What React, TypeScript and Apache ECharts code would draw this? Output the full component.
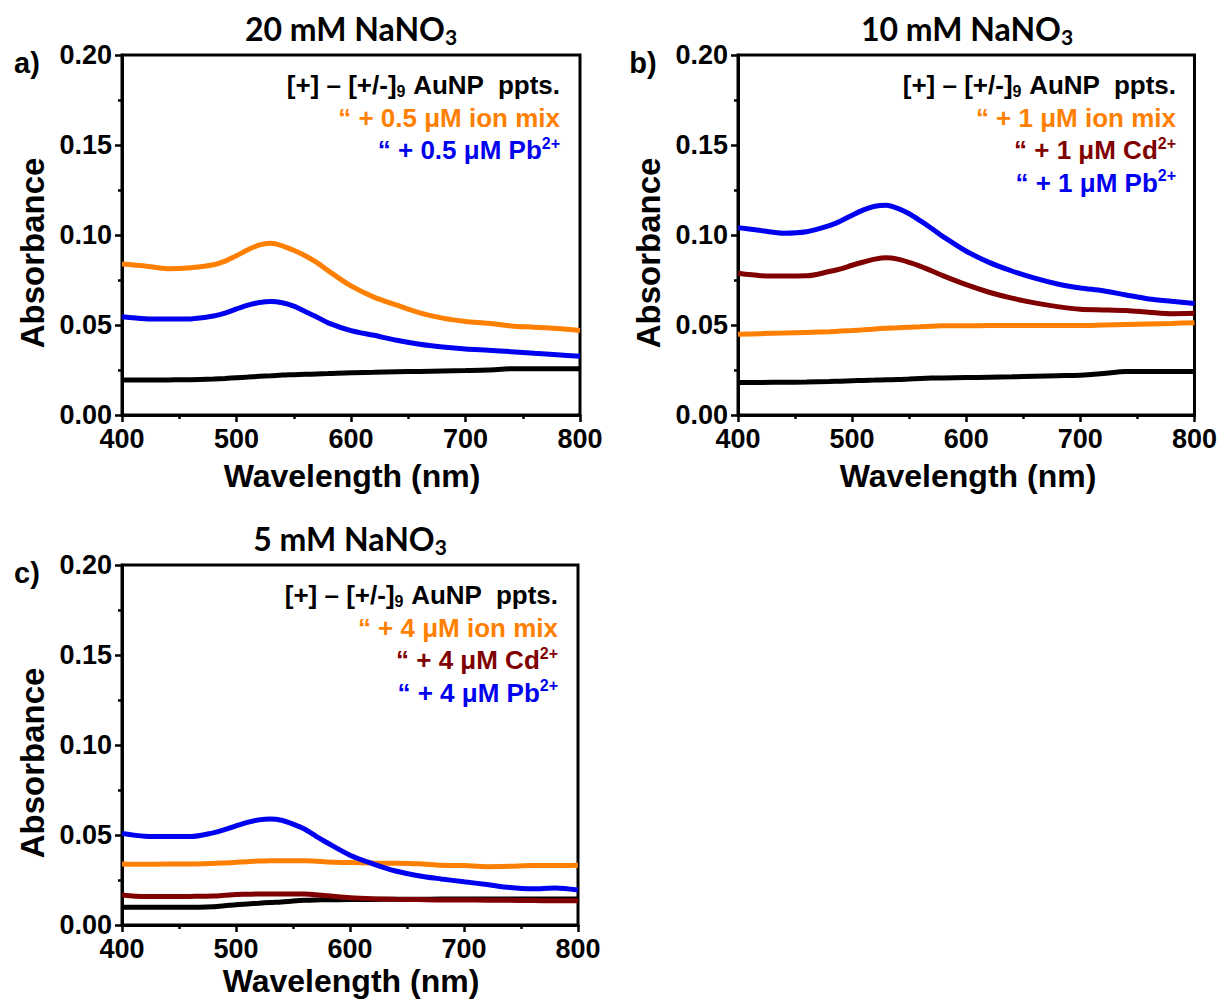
import React, { useEffect, useRef } from "react";
import * as echarts from "echarts";

// Wavelength grid (nm) shared by every spectrum; denser around the plasmon band
const wavelengths = [400, 420, 440, 460, 480, 490, 500, 510, 520, 530, 540, 550, 560, 570, 580, 600, 620, 640, 660, 680, 700, 720, 740, 760, 780, 800];

// a) 20 mM NaNO3
const aBase = [0.0194, 0.0194, 0.0195, 0.0196, 0.0200, 0.0203, 0.0207, 0.0211, 0.0215, 0.0218, 0.0222, 0.0224, 0.0226, 0.0228, 0.0230, 0.0235, 0.0237, 0.0240, 0.0242, 0.0245, 0.0247, 0.0250, 0.0257, 0.0257, 0.0257, 0.0257];
const aIonMix = [0.0839, 0.0828, 0.0813, 0.0818, 0.0835, 0.0855, 0.0885, 0.0918, 0.0945, 0.0954, 0.0940, 0.0915, 0.0885, 0.0848, 0.0802, 0.0717, 0.0655, 0.0610, 0.0567, 0.0538, 0.0520, 0.0510, 0.0495, 0.0488, 0.0480, 0.0470];
const aPb = [0.0546, 0.0535, 0.0533, 0.0534, 0.0550, 0.0566, 0.0589, 0.0610, 0.0625, 0.0631, 0.0624, 0.0605, 0.0575, 0.0545, 0.0512, 0.0469, 0.0443, 0.0415, 0.0393, 0.0378, 0.0367, 0.0360, 0.0352, 0.0343, 0.0335, 0.0326];

// b) 10 mM NaNO3
const bBase = [0.0180, 0.0181, 0.0182, 0.0183, 0.0186, 0.0188, 0.0190, 0.0192, 0.0194, 0.0196, 0.0197, 0.0200, 0.0203, 0.0205, 0.0206, 0.0208, 0.0210, 0.0212, 0.0215, 0.0218, 0.0221, 0.0230, 0.0241, 0.0241, 0.0241, 0.0241];
const bIonMix = [0.0448, 0.0452, 0.0455, 0.0459, 0.0463, 0.0466, 0.0469, 0.0473, 0.0478, 0.0482, 0.0485, 0.0488, 0.0490, 0.0493, 0.0496, 0.0496, 0.0497, 0.0497, 0.0497, 0.0497, 0.0497, 0.0500, 0.0503, 0.0506, 0.0509, 0.0513];
const bCd = [0.0787, 0.0774, 0.0772, 0.0773, 0.0797, 0.0812, 0.0832, 0.0850, 0.0866, 0.0873, 0.0866, 0.0848, 0.0826, 0.0800, 0.0773, 0.0724, 0.0682, 0.0649, 0.0623, 0.0602, 0.0587, 0.0584, 0.0580, 0.0571, 0.0563, 0.0565];
const bPb = [0.1041, 0.1025, 0.1010, 0.1018, 0.1052, 0.1078, 0.1110, 0.1140, 0.1160, 0.1165, 0.1148, 0.1118, 0.1078, 0.1035, 0.0990, 0.0910, 0.0848, 0.0800, 0.0760, 0.0728, 0.0706, 0.0690, 0.0667, 0.0645, 0.0632, 0.0620];

// c) 5 mM NaNO3
const cBase = [0.0098, 0.0098, 0.0098, 0.0098, 0.0102, 0.0107, 0.0113, 0.0117, 0.0121, 0.0125, 0.0128, 0.0133, 0.0137, 0.0139, 0.0140, 0.0141, 0.0142, 0.0143, 0.0143, 0.0144, 0.0144, 0.0144, 0.0144, 0.0144, 0.0144, 0.0144];
const cIonMix = [0.0339, 0.0337, 0.0339, 0.0339, 0.0342, 0.0345, 0.0348, 0.0352, 0.0355, 0.0357, 0.0357, 0.0357, 0.0357, 0.0354, 0.0350, 0.0347, 0.0344, 0.0343, 0.0340, 0.0332, 0.0330, 0.0324, 0.0326, 0.0330, 0.0330, 0.0332];
const cCd = [0.0167, 0.0158, 0.0158, 0.0159, 0.0161, 0.0165, 0.0170, 0.0171, 0.0172, 0.0172, 0.0172, 0.0172, 0.0172, 0.0168, 0.0163, 0.0152, 0.0146, 0.0143, 0.0141, 0.0139, 0.0139, 0.0138, 0.0137, 0.0136, 0.0135, 0.0135];
const cPb = [0.0509, 0.0493, 0.0491, 0.0491, 0.0512, 0.0530, 0.0551, 0.0570, 0.0584, 0.0589, 0.0582, 0.0560, 0.0533, 0.0494, 0.0457, 0.0388, 0.0340, 0.0300, 0.0274, 0.0256, 0.0240, 0.0225, 0.0208, 0.0201, 0.0205, 0.0194];

const panelTitles = ["20 mM NaNO", "10 mM NaNO", "5 mM NaNO"];
const panelLetters = ["a)", "b)", "c)"];
const doseA = "0.5";
const doseB = "1";
const doseC = "4";

const BLACK = "#000000";
const ORANGE = "#FF7F00";
const DARKRED = "#800000";
const BLUE = "#0000F0";

const SANS = "'Liberation Sans', Arial, sans-serif";
const TITLE_FONT = "Lato, 'Open Sans', sans-serif";

type Curve = { name: string; values: number[]; color: string };
type LegendLine = { text: string; color: string; sup?: string };
type Panel = {
  grid: { left: number; top: number; width: number; height: number };
  title: string;
  letter: string;
  curves: Curve[];
  legend: LegendLine[];
  xNameY: number;
};

const panels: Panel[] = [
  {
    grid: { left: 122, top: 55, width: 458, height: 360 },
    title: panelTitles[0],
    letter: panelLetters[0],
    curves: [
      { name: "base", values: aBase, color: BLACK },
      { name: "ionMix", values: aIonMix, color: ORANGE },
      { name: "Pb", values: aPb, color: BLUE },
    ],
    legend: [
      { text: `\u201C + ${doseA} \u03BCM ion mix`, color: ORANGE },
      { text: `\u201C + ${doseA} \u03BCM Pb`, color: BLUE, sup: "2+" },
    ],
    xNameY: 476,
  },
  {
    grid: { left: 738, top: 55, width: 458, height: 360 },
    title: panelTitles[1],
    letter: panelLetters[1],
    curves: [
      { name: "base", values: bBase, color: BLACK },
      { name: "ionMix", values: bIonMix, color: ORANGE },
      { name: "Cd", values: bCd, color: DARKRED },
      { name: "Pb", values: bPb, color: BLUE },
    ],
    legend: [
      { text: `\u201C + ${doseB} \u03BCM ion mix`, color: ORANGE },
      { text: `\u201C + ${doseB} \u03BCM Cd`, color: DARKRED, sup: "2+" },
      { text: `\u201C + ${doseB} \u03BCM Pb`, color: BLUE, sup: "2+" },
    ],
    xNameY: 476,
  },
  {
    grid: { left: 122, top: 565, width: 456, height: 360 },
    title: panelTitles[2],
    letter: panelLetters[2],
    curves: [
      { name: "base", values: cBase, color: BLACK },
      { name: "ionMix", values: cIonMix, color: ORANGE },
      { name: "Cd", values: cCd, color: DARKRED },
      { name: "Pb", values: cPb, color: BLUE },
    ],
    legend: [
      { text: `\u201C + ${doseC} \u03BCM ion mix`, color: ORANGE },
      { text: `\u201C + ${doseC} \u03BCM Cd`, color: DARKRED, sup: "2+" },
      { text: `\u201C + ${doseC} \u03BCM Pb`, color: BLUE, sup: "2+" },
    ],
    xNameY: 981,
  },
];

const LEG_SIZE = 26;
const LEG_STEP = 32.5;

function buildOption() {
  const grids: any[] = [];
  const xAxes: any[] = [];
  const yAxes: any[] = [];
  const series: any[] = [];
  const graphics: any[] = [];

  panels.forEach((p, i) => {
    const g = p.grid;
    grids.push({ ...g, show: true, borderColor: BLACK, borderWidth: 3, backgroundColor: "transparent" });

    const axisCommon = {
      gridIndex: i,
      axisLine: { show: true, onZero: false, lineStyle: { color: BLACK, width: 3 } },
      axisTick: { show: true, inside: false, length: 7, lineStyle: { color: BLACK, width: 2.5 } },
      minorTick: { show: true, splitNumber: 2, length: 4, lineStyle: { color: BLACK, width: 2.5 } },
      splitLine: { show: false },
      minorSplitLine: { show: false },
      axisLabel: {
        color: BLACK,
        fontSize: 27,
        fontWeight: "bold",
        fontFamily: SANS,
        margin: 10,
      },
    };

    xAxes.push({
      ...axisCommon,
      type: "value",
      min: 400,
      max: 800,
      interval: 100,
    });
    yAxes.push({
      ...axisCommon,
      type: "value",
      min: 0,
      max: 0.2,
      interval: 0.05,
      axisLabel: { ...axisCommon.axisLabel, formatter: (v: number) => v.toFixed(2) },
    });

    p.curves.forEach((c) => {
      series.push({
        type: "line",
        name: `${p.letter}-${c.name}`,
        xAxisIndex: i,
        yAxisIndex: i,
        data: wavelengths.map((w, k) => [w, c.values[k]]),
        showSymbol: false,
        smooth: 0.3,
        lineStyle: { color: c.color, width: 5 },
        itemStyle: { color: c.color },
      });
    });

    const cx = g.left + g.width / 2;
    const cy = g.top + g.height / 2;

    // Panel title with subscript
    graphics.push({
      type: "text",
      x: cx,
      y: g.top - 27,
      style: {
        text: `{t|${p.title}}{s|3}`,
        align: "center",
        verticalAlign: "middle",
        textAlign: "center",
        textVerticalAlign: "middle",
        rich: {
          t: { fontSize: 32, fontWeight: "bold", fontFamily: TITLE_FONT, fill: BLACK, color: BLACK },
          s: { fontSize: 21, fontWeight: "bold", fontFamily: TITLE_FONT, fill: BLACK, color: BLACK, padding: [16, 0, 0, 0] },
        },
      },
    });

    // Panel letter
    graphics.push({
      type: "text",
      x: g.left - 95,
      y: g.top + 8,
      style: {
        text: p.letter,
        fontSize: 29,
        fontWeight: "bold",
        fontFamily: SANS,
        fill: BLACK,
        align: "center",
        verticalAlign: "middle",
        textAlign: "center",
        textVerticalAlign: "middle",
      },
    });

    // Axis names
    graphics.push({
      type: "text",
      x: g.left - 90,
      y: cy + 18,
      rotation: Math.PI / 2,
      style: {
        text: "Absorbance",
        fontSize: 33,
        fontWeight: "bold",
        fontFamily: SANS,
        fill: BLACK,
        align: "center",
        verticalAlign: "middle",
        textAlign: "center",
        textVerticalAlign: "middle",
      },
    });
    graphics.push({
      type: "text",
      x: cx + 1,
      y: p.xNameY,
      style: {
        text: "Wavelength (nm)",
        fontSize: 32,
        fontWeight: "bold",
        fontFamily: SANS,
        fill: BLACK,
        align: "center",
        verticalAlign: "middle",
        textAlign: "center",
        textVerticalAlign: "middle",
      },
    });

    // Legend block, right-aligned inside the plot
    const rx = g.left + g.width - 20;
    const ly0 = g.top + 30;
    graphics.push({
      type: "text",
      x: rx,
      y: ly0,
      style: {
        text: `{a|[+] \u2013 [+/-]}{s|9}{a| AuNP  ppts.}`,
        align: "right",
        verticalAlign: "middle",
        textAlign: "right",
        textVerticalAlign: "middle",
        rich: {
          a: { fontSize: LEG_SIZE, fontWeight: "bold", fontFamily: SANS, fill: BLACK, color: BLACK },
          s: { fontSize: 16, fontWeight: "bold", fontFamily: SANS, fill: BLACK, color: BLACK, padding: [12, 0, 0, 0] },
        },
      },
    });
    p.legend.forEach((l, k) => {
      const rich: any = {
        a: { fontSize: LEG_SIZE, fontWeight: "bold", fontFamily: SANS, fill: l.color, color: l.color },
        u: { fontSize: 16, fontWeight: "bold", fontFamily: SANS, fill: l.color, color: l.color, padding: [0, 0, 14, 0] },
      };
      graphics.push({
        type: "text",
        x: rx,
        y: ly0 + LEG_STEP * (k + 1),
        style: {
          text: l.sup ? `{a|${l.text}}{u|${l.sup}}` : `{a|${l.text}}`,
          align: "right",
          verticalAlign: "middle",
          textAlign: "right",
          textVerticalAlign: "middle",
          rich,
        },
      });
    });
  });

  return {
    animation: false,
    backgroundColor: "#ffffff",
    grid: grids,
    xAxis: xAxes,
    yAxis: yAxes,
    series,
    graphic: graphics,
  };
}

export default function App() {
  const ref = useRef<HTMLDivElement>(null);
  useEffect(() => {
    if (!ref.current) return;
    const chart = echarts.init(ref.current, undefined, { renderer: "svg" });
    chart.setOption(buildOption() as any);
    return () => chart.dispose();
  }, []);
  return (
    <div
      ref={ref}
      style={{ position: "fixed", left: 0, top: 0, width: 1220, height: 1001, background: "#fff" }}
    />
  );
}
